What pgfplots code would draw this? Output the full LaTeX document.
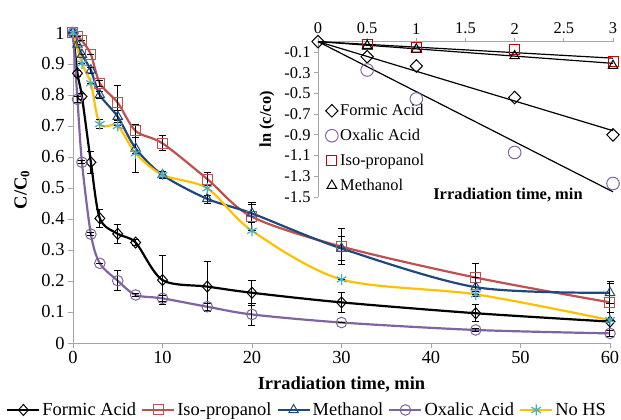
\documentclass[border=0pt]{standalone}
\usepackage{pgfplots}
\pgfplotsset{compat=1.18}
\usepackage{pgfplotstable}
\usepackage{fontspec}
\setmainfont{Liberation Serif}
\setsansfont{Liberation Serif}
\definecolor{cRed}{HTML}{C0504D}
\definecolor{cBlue}{HTML}{1F497D}
\definecolor{cPurple}{HTML}{8064A2}
\definecolor{cCyan}{HTML}{4BACC6}
\definecolor{cYellow}{HTML}{FFC000}
\definecolor{axgray}{HTML}{A6A6A6}
\newcommand{\mainfs}{\rmfamily\fontsize{18.5}{21}\selectfont}
\newcommand{\insfs}{\rmfamily\fontsize{16.5}{19}\selectfont}

\pgfplotstableread{
x y e
0 1.0 0
0.5 0.870 0.01
1 0.795 0.01
2 0.583 0.035
3 0.402 0.03
5 0.352 0.03
7 0.324 0.01
10 0.203 0.08
15 0.182 0.08
20 0.162 0.04
30 0.131 0.032
45 0.096 0.028
60 0.069 0.03
}\formic
\pgfplotstableread{
x y e
0 1.0 0
0.5 0.99 0
1 0.975 0
2 0.931 0
3 0.838 0.01
5 0.775 0.057
7 0.684 0.02
10 0.644 0.024
15 0.529 0.02
20 0.407 0.045
30 0.311 0.058
45 0.211 0.045
60 0.131 0.06
}\iso
\pgfplotstableread{
x y e
0 1.0 0
0.5 0.963 0
1 0.93 0
2 0.88 0.01
3 0.80 0.01
5 0.73 0.02
7 0.628 0.077
10 0.542 0.01
15 0.465 0.01
20 0.418 0.03
30 0.305 0.04
45 0.18 0.03
60 0.162 0.035
}\meth
\pgfplotstableread{
x y e
0 1.0 0
0.5 0.786 0.01
1 0.583 0.005
2 0.351 0.005
3 0.257 0
5 0.201 0.033
7 0.155 0.005
10 0.144 0.01
15 0.117 0.012
20 0.092 0.037
30 0.066 0
45 0.042 0.005
60 0.031 0.01
}\oxal
\pgfplotstableread{
x y e
0 1.0 0
1 0.902 0
2 0.838 0
3 0.706 0.015
5 0.70 0
7 0.612 0
10 0.542 0
15 0.499 0.05
20 0.362 0
30 0.205 0
45 0.157 0
60 0.074 0
}\nohs

\pgfplotsset{
  mainline/.style={line width=2.2bp, smooth, tension=0.5,
    error bars/y dir=both, error bars/y explicit,
    error bars/error bar style={line width=1bp, black, solid},
    error bars/error mark options={rotate=90, mark size=3.5bp, line width=1bp, black}},
}

\begin{document}
\begin{tikzpicture}
\useasboundingbox (-73bp,-77bp) rectangle (548bp,343bp);
\begin{axis}[
  at={(0,0)}, anchor=south west, scale only axis,
  width=537bp, height=310bp,
  xmin=0, xmax=60, ymin=0, ymax=1,
  xtick={0,10,20,30,40,50,60},
  ytick={0,0.1,0.2,0.3,0.4,0.5,0.6,0.7,0.8,0.9,1},
  axis x line*=bottom, axis y line*=left,
  axis line style={axgray, line width=0.8bp},
  tick style={axgray, line width=0.8bp},
  tick align=outside, major tick length=5bp,
  tick label style={font=\mainfs},
  /pgf/number format/assume math mode=true,
  xlabel={\textbf{Irradiation time, min}},
  ylabel={\textbf{C/C\textsubscript{0}}},
  label style={font=\mainfs},
  xlabel style={at={(axis description cs:0.5,-0.133)}, anchor=center},
  ylabel style={at={(axis description cs:-0.095,0.494)}, anchor=center},
  clip=false,
  legend columns=5,
  legend style={at={(axis description cs:0.436,-0.216)}, anchor=center,
    draw=none, fill=none, font=\mainfs,
    /tikz/every even column/.append style={column sep=3bp}},
  legend image code/.code={\draw[mark repeat=2,mark phase=2,#1] plot coordinates {(0bp,0bp) (16bp,0bp) (32bp,0bp)};},
]
\addplot[mainline, black, mark=diamond, mark size=5.5bp, mark options={solid, fill=white, line width=1bp, xscale=1.2}]
  table[x=x, y=y, y error=e] {\formic};
\addlegendentry{Formic Acid}
\addplot[mainline, cRed, mark=square, mark size=5bp, mark options={solid, fill=white, line width=1bp}]
  table[x=x, y=y, y error=e] {\iso};
\addlegendentry{Iso-propanol}
\addplot[mainline, cBlue, mark=triangle, mark size=5.5bp, mark options={solid, fill=white, line width=1bp}]
  table[x=x, y=y, y error=e] {\meth};
\addlegendentry{Methanol}
\addplot[mainline, cPurple, mark=o, mark size=5.3bp, mark options={solid, fill=white, line width=1bp}]
  table[x=x, y=y, y error=e] {\oxal};
\addlegendentry{Oxalic Acid}
\addplot[mainline, cYellow, mark=asterisk, mark size=5.5bp, mark options={solid, cCyan, line width=1.2bp}]
  table[x=x, y=y, y error=e] {\nohs};
\addlegendentry{No HS}
\end{axis}

\begin{axis}[
  at={(245bp,146bp)}, anchor=south west, scale only axis,
  width=295bp, height=155.4bp,
  xmin=0, xmax=3, ymin=-1.5, ymax=0,
  xtick={0,0.5,1,1.5,2,2.5,3},
  ytick={-1.5,-1.3,-1.1,-0.9,-0.7,-0.5,-0.3,-0.1},
  axis x line*=top, axis y line*=left,
  axis line style={axgray, line width=0.8bp},
  tick style={axgray, line width=0.8bp},
  tick align=outside, major tick length=4bp,
  tick label style={font=\insfs},
  /pgf/number format/assume math mode=true,
  xlabel={\textbf{Irradiation time, min}},
  ylabel={\textbf{ln (c/co)}},
  label style={font=\insfs},
  xlabel style={at={(axis description cs:0.644,0.01)}, anchor=center},
  ylabel style={at={(axis description cs:-0.173,0.5)}, anchor=center},
  clip=false,
  legend cell align=left,
  legend style={at={(axis description cs:0.025,0.61)}, anchor=north west,
    draw=none, fill=none, font=\insfs, row sep=8bp, inner sep=0pt},
]
\addplot[black, line width=1.2bp, forget plot] coordinates {(0,0) (3,-0.86)};
\addplot[black, line width=1.2bp, forget plot] coordinates {(0,0) (3,-1.45)};
\addplot[black, line width=1.2bp, forget plot] coordinates {(0,0) (3,-0.16)};
\addplot[black, line width=1.2bp, forget plot] coordinates {(0,0) (3,-0.21)};
\addplot[only marks, black, mark=diamond, mark size=6.3bp, mark options={fill=white, line width=1bp, xscale=1.3}]
  coordinates {(0,0) (0.5,-0.146) (1,-0.236) (2,-0.54) (3,-0.90)};
\addlegendentry{Formic Acid}
\addplot[only marks, cPurple, mark=o, mark size=6.3bp, mark options={line width=1bp}]
  coordinates {(0.5,-0.274) (1,-0.554) (2,-1.07) (3,-1.37)};
\addlegendentry{Oxalic Acid}
\addplot[only marks, red!80!black, mark=square, mark size=5bp, mark options={line width=1bp}]
  coordinates {(0.5,-0.026) (1,-0.059) (2,-0.081) (3,-0.194)};
\addlegendentry{Iso-propanol}
\addplot[only marks, black, mark=triangle, mark size=5.5bp, mark options={line width=1bp}]
  coordinates {(0.5,-0.04) (1,-0.074) (2,-0.139) (3,-0.233)};
\addlegendentry{Methanol}
\end{axis}
\end{tikzpicture}
\end{document}
